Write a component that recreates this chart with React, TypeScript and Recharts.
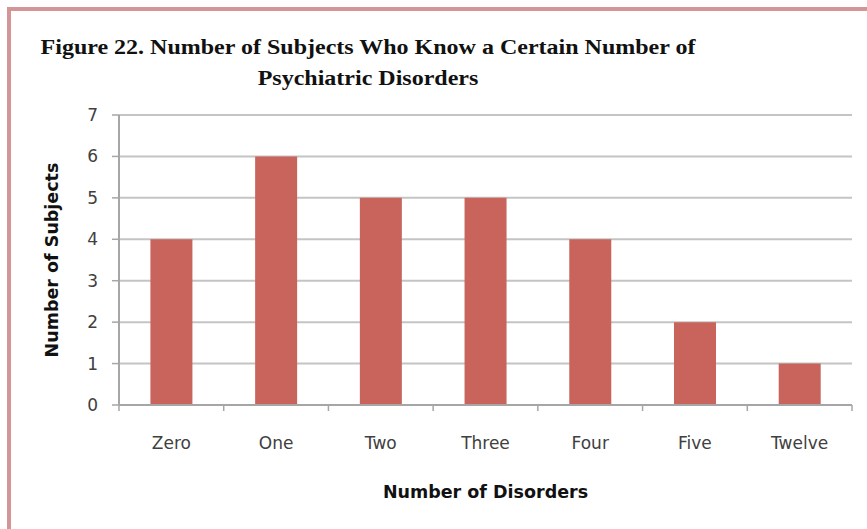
import { BarChart, Bar, XAxis, YAxis, CartesianGrid, Label } from "recharts";

const categories = ["Zero", "One", "Two", "Three", "Four", "Five", "Twelve"];
const subjects = [4, 6, 5, 5, 4, 2, 1];
const yTicks = [0, 1, 2, 3, 4, 5, 6, 7];

const data = categories.map((name, i) => ({ name, subjects: subjects[i] }));

const W = 867;
const H = 529;
const LEFT = 119;
const RIGHT = 15;
const BAND = (W - LEFT - RIGHT) / categories.length;

const AXIS = "#a6a6a6";
const GRID = "#c4c4c4";
const BAR = "#c8645c";
const SANS = "'DejaVu Sans', 'Open Sans', sans-serif";

// category ticks sit between bars, like the spreadsheet original
function CatTick(props: any) {
  const { x, y, payload, index } = props;
  const left = x - BAND / 2;
  const last = index === categories.length - 1;
  return (
    <g>
      <line x1={left} y1={y - 8} x2={left} y2={y - 2} stroke={AXIS} strokeWidth={1.5} />
      {last && (
        <line x1={left + BAND} y1={y - 8} x2={left + BAND} y2={y - 2} stroke={AXIS} strokeWidth={1.5} />
      )}
      <text x={x} y={y + 36} textAnchor="middle" fill="#404040" fontSize={17} fontFamily={SANS}>
        {payload.value}
      </text>
    </g>
  );
}

export default function App() {
  return (
    <div style={{ position: "absolute", left: 0, top: 0, width: W, height: H, background: "#fff", overflow: "hidden" }}>
      <BarChart
        width={W}
        height={H}
        data={data}
        margin={{ top: 115, right: RIGHT, left: 0, bottom: 30 }}
        barCategoryGap="30%"
        style={{ position: "absolute", left: 0, top: 0 }}
      >
        <CartesianGrid vertical={false} stroke={GRID} strokeWidth={2} />
        <XAxis
          dataKey="name"
          height={94}
          axisLine={{ stroke: AXIS, strokeWidth: 2 }}
          tickLine={false}
          tick={<CatTick />}
          interval={0}
        >
          <Label
            value="Number of Disorders"
            position="insideBottom"
            offset={1}
            style={{ fontFamily: SANS, fontWeight: "bold", fontSize: 17.5, fill: "#111" }}
          />
        </XAxis>
        <YAxis
          width={LEFT}
          domain={[0, 7]}
          ticks={yTicks}
          interval={0}
          axisLine={{ stroke: AXIS, strokeWidth: 2 }}
          tickLine={{ stroke: AXIS, strokeWidth: 1.5 }}
          tickSize={7}
          tickMargin={14}
          tick={{ fill: "#404040", fontSize: 17, fontFamily: SANS }}
        >
          <Label
            value="Number of Subjects"
            angle={-90}
            position="insideLeft"
            offset={52}
            style={{ textAnchor: "middle", fontFamily: SANS, fontWeight: "bold", fontSize: 17.5, fill: "#111" }}
          />
        </YAxis>
        <Bar dataKey="subjects" fill={BAR} isAnimationActive={false} />
      </BarChart>
      <div style={{ position: "absolute", left: 7, top: 7, width: W, height: 4, background: "#d39595" }} />
      <div style={{ position: "absolute", left: 7, top: 7, width: 4, height: H, background: "#d39595" }} />
      <div
        style={{
          position: "absolute",
          left: 0,
          top: 32,
          width: 736,
          textAlign: "center",
          fontFamily: "'Liberation Serif', 'Times New Roman', serif",
          fontWeight: "bold",
          fontSize: 20,
          lineHeight: "31px",
          color: "#111",
          transform: "scaleX(1.2)",
          transformOrigin: "368px 0",
        }}
      >
        Figure 22. Number of Subjects Who Know a Certain Number of
        <br />
        Psychiatric Disorders
      </div>
    </div>
  );
}
